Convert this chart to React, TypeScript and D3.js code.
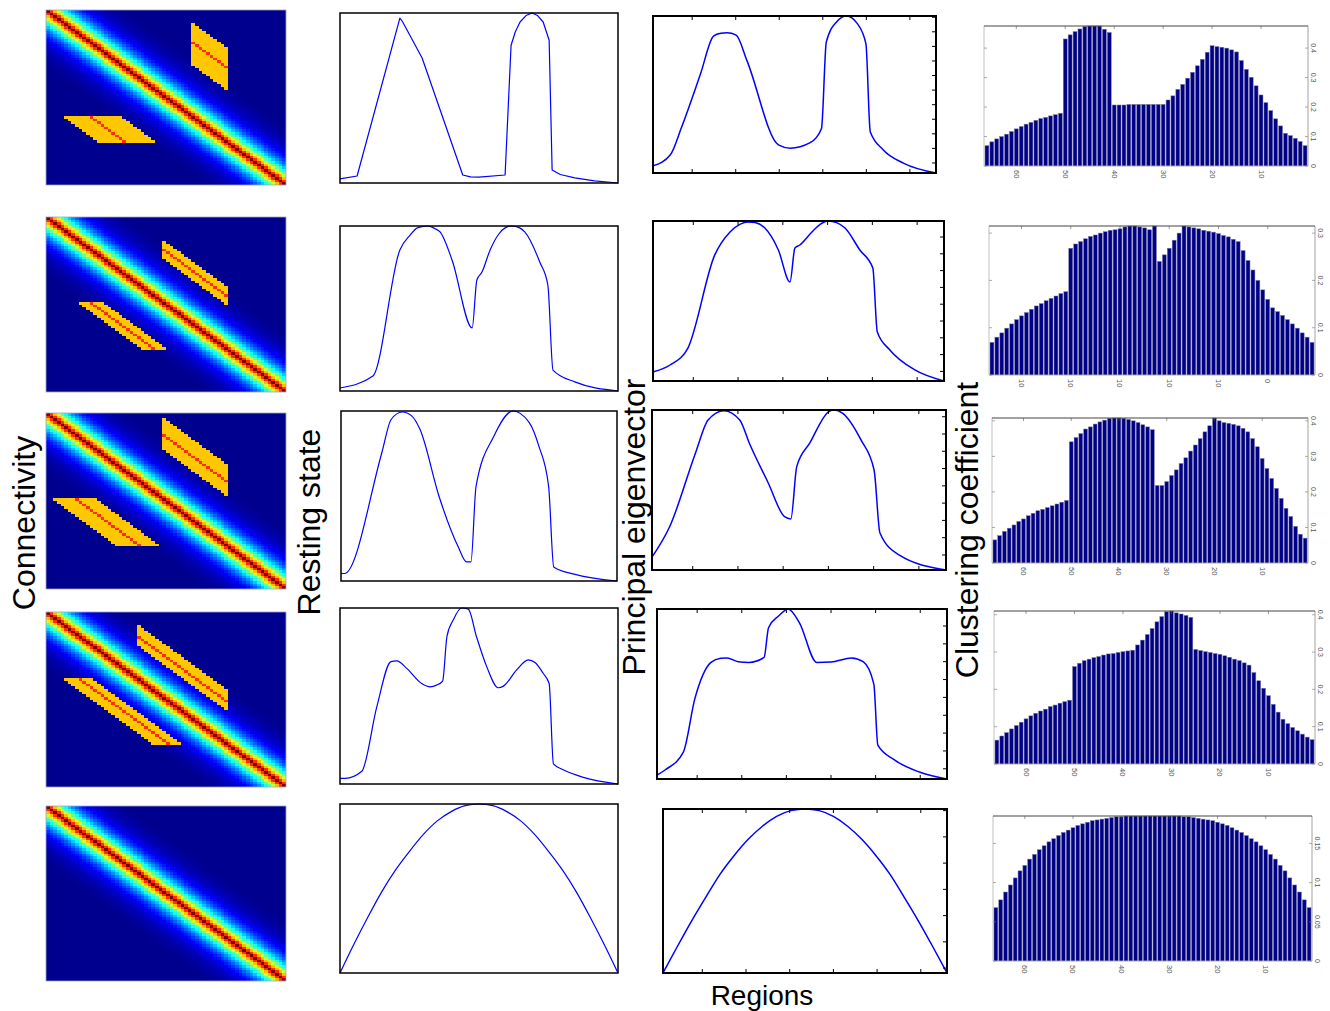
import React from "react";
import * as d3 from "d3";

// ---------------- DATA ----------------
const N_REGIONS = 66;
const regionIdx = d3.range(1, N_REGIONS + 1);

// Connectivity matrices: diagonal decay + two symmetric off-diagonal blocks per row (0-based indices)
const diagDecay = 5.5;
const blockColStart = [40, 32, 32, 25, -1];
const blockColEnd = [49, 49, 49, 49, -1];
const blockOffMin = [20, 17, 19, 13, 0];
const blockOffMax = [35, 23, 30, 20, 0];
const blockOffCenter = [28, 20, 24, 16, 0];
const blockLevel = 0.68;
const blockCenterLevel = 0.83;

// Resting state curves: [region, normalised value]
const rest1: [number, number][] = [
  [1, 0.024], [5.0, 0.041], [15.0, 0.97], [15.6, 0.95], [20.2, 0.735], [29.7, 0.047],
  [31.5, 0.036], [33.5, 0.035], [39.6, 0.047], [41.0, 0.81], [42.0, 0.89], [43.1, 0.947],
  [44.5, 0.985], [45.9, 1.0], [47.2, 0.985], [48.5, 0.947], [49.9, 0.84],
  [50.6, 0.076], [52.5, 0.05], [55.9, 0.03], [60.5, 0.012], [66, 0],
];
const rest2: [number, number][] = [
  [1, 0.018], [8.7, 0.091], [15.0, 0.855], [17.4, 0.945], [19.2, 0.99], [21.6, 1.0], [23.1, 0.985],
  [24.4, 0.964], [27.2, 0.794], [31.9, 0.382], [33.0, 0.673], [34.2, 0.721], [36.1, 0.855],
  [38.1, 0.95], [39.7, 0.99], [41.2, 1.0], [42.9, 0.99], [44.2, 0.964], [47.7, 0.782],
  [49.6, 0.642], [50.8, 0.127], [55.9, 0.055], [66, 0],
];
const rest3: [number, number][] = [
  [1, 0.045], [1.8, 0.044], [10.6, 0.753], [12.8, 0.95], [15.4, 0.994], [17.7, 0.97],
  [19.6, 0.892], [24.1, 0.497], [28.6, 0.201], [30.6, 0.112], [31.6, 0.112], [32.8, 0.556],
  [37.0, 0.852], [41.5, 1.0], [45.3, 0.933], [47.6, 0.793], [49.9, 0.556], [51.1, 0.083],
  [55.9, 0.04], [66, 0],
];
const rest4: [number, number][] = [
  [1, 0.032], [2.2, 0.032], [6.1, 0.072], [9.6, 0.438], [12.9, 0.695], [14.3, 0.7],
  [16.6, 0.657], [20.1, 0.571], [22.1, 0.552], [23.6, 0.562], [25.0, 0.585], [26.0, 0.838],
  [27.5, 0.933], [29.4, 1.0], [31.0, 0.994], [32.9, 0.838], [35.3, 0.667], [38.0, 0.547],
  [39.2, 0.556], [42.3, 0.648], [45.0, 0.705], [46.6, 0.69], [48.5, 0.629], [49.9, 0.571],
  [50.9, 0.114], [53.2, 0.081], [57.9, 0.038], [66, 0],
];
const rest5: [number, number][] = [
  [1, 0], [4.25, 0.17], [7.5, 0.33], [10.75, 0.48], [14, 0.61], [17.25, 0.72], [20.5, 0.82],
  [23.75, 0.9], [27, 0.955], [30.25, 0.99], [33.5, 1.0], [36.75, 0.99], [40, 0.955],
  [43.25, 0.9], [46.5, 0.82], [49.75, 0.72], [53, 0.61], [56.25, 0.48], [59.5, 0.33],
  [62.75, 0.17], [66, 0],
];

// Principal eigenvector curves: [region, normalised value]
const eig1: [number, number][] = [
  [1, 0.046], [5.0, 0.116], [7.6, 0.294], [11.9, 0.63], [14.9, 0.872], [16.6, 0.89],
  [18.0, 0.893], [20.1, 0.878], [22.6, 0.714], [29.8, 0.179], [32.5, 0.158], [37.1, 0.193],
  [39.7, 0.284], [40.8, 0.834], [43.2, 0.964], [45.5, 1.0], [47.8, 0.956], [49.9, 0.824],
  [50.9, 0.263], [53.9, 0.147], [58.5, 0.063], [66, 0],
];
const eig2: [number, number][] = [
  [1, 0.056], [4.8, 0.1], [8.8, 0.206], [14.8, 0.788], [18.2, 0.931], [20.5, 0.98],
  [22.2, 0.994], [23.8, 0.99], [26.0, 0.956], [29.0, 0.819], [31.6, 0.619], [32.7, 0.831],
  [33.8, 0.85], [36.5, 0.931], [38.4, 0.98], [40.1, 1.0], [42.0, 0.99], [43.9, 0.956],
  [47.2, 0.819], [50.1, 0.706], [51.1, 0.306], [53.9, 0.194], [59.5, 0.069], [66, 0],
];
const eig3: [number, number][] = [
  [1, 0.08], [4.9, 0.27], [10.6, 0.73], [13.4, 0.938], [16.9, 0.996], [20.4, 0.938],
  [22.5, 0.794], [26.7, 0.544], [30.3, 0.333], [31.7, 0.319], [33.0, 0.646], [35.9, 0.794],
  [40.1, 0.99], [41.3, 1.0], [43.1, 0.981], [47.2, 0.813], [50.1, 0.625], [51.4, 0.231],
  [55.6, 0.094], [66, 0],
];
const eig4: [number, number][] = [
  [1, 0.023], [2.8, 0.053], [6.9, 0.158], [9.5, 0.474], [13.1, 0.686], [15.3, 0.71],
  [16.7, 0.712], [19.2, 0.69], [21.6, 0.686], [25.0, 0.715], [26.0, 0.89], [28.3, 0.96],
  [30.4, 1.0], [32.9, 0.92], [36.8, 0.686], [40.0, 0.688], [44.6, 0.712], [47.2, 0.69],
  [49.6, 0.558], [50.5, 0.199], [54.3, 0.111], [59.8, 0.041], [66, 0],
];
const eig5: [number, number][] = [
  [1, 0], [4.25, 0.16], [7.5, 0.315], [10.75, 0.46], [14, 0.6], [17.25, 0.715], [20.5, 0.815],
  [23.75, 0.895], [27, 0.955], [30.25, 0.99], [33.5, 1.0], [36.75, 0.99], [40, 0.955],
  [43.25, 0.895], [46.5, 0.815], [49.75, 0.715], [53, 0.6], [56.25, 0.46], [59.5, 0.315],
  [62.75, 0.16], [66, 0],
];

// Clustering coefficient per region (index 1..66)
const clust1 = [
  0.069, 0.083, 0.094, 0.103, 0.111, 0.136, 0.160, 0.188, 0.215, 0.241,
  0.272, 0.301, 0.328, 0.358, 0.387, 0.394, 0.400, 0.403, 0.405, 0.408,
  0.386, 0.362, 0.340, 0.318, 0.298, 0.277, 0.260, 0.238, 0.224, 0.209,
  0.209, 0.209, 0.209, 0.209, 0.209, 0.209, 0.209, 0.207, 0.207, 0.207,
  0.453, 0.464, 0.475, 0.475, 0.475, 0.473, 0.465, 0.456, 0.445, 0.431,
  0.179, 0.174, 0.170, 0.165, 0.161, 0.155, 0.148, 0.142, 0.134, 0.126,
  0.117, 0.108, 0.100, 0.092, 0.082, 0.069,
];
const clust2 = [
  0.069, 0.080, 0.089, 0.099, 0.108, 0.117, 0.126, 0.134, 0.142, 0.160,
  0.180, 0.200, 0.222, 0.242, 0.263, 0.282, 0.287, 0.292, 0.295, 0.299,
  0.302, 0.304, 0.306, 0.309, 0.311, 0.313, 0.315, 0.300, 0.285, 0.268,
  0.254, 0.240, 0.315, 0.307, 0.311, 0.313, 0.315, 0.315, 0.313, 0.309,
  0.307, 0.306, 0.303, 0.300, 0.296, 0.293, 0.288, 0.282, 0.277, 0.268,
  0.176, 0.172, 0.167, 0.162, 0.157, 0.151, 0.146, 0.139, 0.132, 0.125,
  0.117, 0.108, 0.099, 0.089, 0.080, 0.069,
];
const clust3 = [
  0.070, 0.081, 0.103, 0.131, 0.154, 0.182, 0.210, 0.238, 0.266, 0.294,
  0.327, 0.350, 0.369, 0.379, 0.386, 0.390, 0.393, 0.395, 0.400, 0.408,
  0.386, 0.369, 0.350, 0.332, 0.315, 0.296, 0.280, 0.262, 0.246, 0.229,
  0.218, 0.218, 0.375, 0.383, 0.389, 0.395, 0.400, 0.404, 0.407, 0.408,
  0.408, 0.407, 0.402, 0.397, 0.391, 0.383, 0.377, 0.364, 0.353, 0.341,
  0.176, 0.171, 0.166, 0.161, 0.156, 0.151, 0.147, 0.140, 0.133, 0.124,
  0.117, 0.107, 0.098, 0.089, 0.077, 0.065,
];
const clust4 = [
  0.065, 0.072, 0.080, 0.089, 0.098, 0.108, 0.120, 0.139, 0.160, 0.183,
  0.203, 0.223, 0.245, 0.265, 0.271, 0.277, 0.281, 0.286, 0.290, 0.294,
  0.296, 0.299, 0.301, 0.304, 0.307, 0.393, 0.398, 0.402, 0.405, 0.410,
  0.408, 0.395, 0.381, 0.363, 0.347, 0.332, 0.319, 0.305, 0.303, 0.301,
  0.299, 0.296, 0.295, 0.292, 0.288, 0.285, 0.281, 0.277, 0.270, 0.261,
  0.171, 0.167, 0.163, 0.158, 0.154, 0.147, 0.142, 0.136, 0.129, 0.121,
  0.112, 0.103, 0.094, 0.084, 0.075, 0.064,
];
const clust5 = [
  0.068, 0.078, 0.088, 0.097, 0.106, 0.115, 0.122, 0.130, 0.136, 0.142,
  0.147, 0.152, 0.156, 0.160, 0.164, 0.167, 0.170, 0.173, 0.175, 0.177,
  0.179, 0.180, 0.181, 0.182, 0.183, 0.184, 0.184, 0.185, 0.185, 0.185,
  0.185, 0.185, 0.185, 0.185, 0.185, 0.185, 0.185, 0.185, 0.185, 0.184,
  0.184, 0.183, 0.182, 0.181, 0.180, 0.179, 0.177, 0.175, 0.173, 0.170,
  0.167, 0.164, 0.160, 0.156, 0.152, 0.147, 0.142, 0.136, 0.130, 0.122,
  0.115, 0.106, 0.097, 0.088, 0.078, 0.068,
];

const clustXTicks = [60, 50, 40, 30, 20, 10];
const clustXLabels = [
  ["60", "50", "40", "30", "20", "10"],
  ["10", "10", "10", "10", "10", "0"],
  ["60", "50", "40", "30", "20", "10"],
  ["60", "50", "40", "30", "20", "10"],
  ["60", "50", "40", "30", "20", "10"],
];
const clustYTicks = [
  [0, 0.1, 0.2, 0.3, 0.4],
  [0, 0.1, 0.2, 0.3],
  [0, 0.1, 0.2, 0.3, 0.4],
  [0, 0.1, 0.2, 0.3, 0.4],
  [0, 0.05, 0.1, 0.15],
];
const eigXTicks = [10, 20, 30, 40, 50, 60];
const eigYTickStart = [0.064, 0.06, 0.094, 0.06, 0.03];
const eigYTickStep = [0.0928, 0.105, 0.108, 0.105, 0.16];

const restData = [rest1, rest2, rest3, rest4, rest5];
const restLinear = [true, false, false, false, false];
const eigData = [eig1, eig2, eig3, eig4, eig5];
const clustData = [clust1, clust2, clust3, clust4, clust5];

// ---------------- LAYOUT ----------------
type Box = { x0: number; x1: number; y0: number; y1: number };
const heatBoxes: Box[] = [
  { x0: 46, x1: 286, y0: 10, y1: 185 },
  { x0: 46, x1: 286, y0: 217, y1: 392 },
  { x0: 46, x1: 286, y0: 413, y1: 589 },
  { x0: 46, x1: 286, y0: 612, y1: 787 },
  { x0: 46, x1: 286, y0: 806, y1: 981 },
];
const restBoxes: Box[] = [
  { x0: 340, x1: 618, y0: 13, y1: 183 },
  { x0: 340, x1: 618, y0: 226, y1: 391 },
  { x0: 341, x1: 617, y0: 411, y1: 581 },
  { x0: 340, x1: 618, y0: 608, y1: 784 },
  { x0: 340, x1: 618, y0: 804, y1: 973 },
];
const eigBoxes: Box[] = [
  { x0: 653, x1: 936, y0: 16, y1: 173 },
  { x0: 653, x1: 944, y0: 221, y1: 381 },
  { x0: 652, x1: 946, y0: 410, y1: 570 },
  { x0: 657, x1: 947, y0: 609, y1: 779 },
  { x0: 663, x1: 947, y0: 809, y1: 973 },
];
const clustBoxes: Box[] = [
  { x0: 984, x1: 1308, y0: 26, y1: 166 },
  { x0: 989, x1: 1315, y0: 226, y1: 375 },
  { x0: 992, x1: 1308, y0: 418, y1: 563 },
  { x0: 994, x1: 1315, y0: 611, y1: 764 },
  { x0: 993, x1: 1312, y0: 816, y1: 961 },
];

const FONT = "'Liberation Sans', Arial, Helvetica, sans-serif";

const jet = d3
  .scaleLinear<string>()
  .domain([0, 0.125, 0.375, 0.625, 0.875, 1])
  .range(["#00008f", "#0000ff", "#00ffff", "#ffff00", "#ff0000", "#800000"])
  .clamp(true);

function Heatmap({ r, box }: { r: number; box: Box }) {
  const cells = React.useMemo(() => {
    const idx = d3.range(N_REGIONS);
    const xs = d3.scaleBand<number>().domain(idx).range([box.x0, box.x1]);
    const ys = d3.scaleBand<number>().domain(idx).range([box.y0, box.y1]);
    const out: JSX.Element[] = [];
    const cs = blockColStart[r], ce = blockColEnd[r];
    const omin = blockOffMin[r], omax = blockOffMax[r], oc = blockOffCenter[r];
    for (const i of idx) {
      for (const j of idx) {
        const d = Math.abs(i - j);
        let v = Math.max(0, (Math.exp(-d / diagDecay) - 0.02) / 0.98);
        if (cs >= 0) {
          const up = j >= cs && j <= ce && j - i >= omin && j - i <= omax;
          const lo = i >= cs && i <= ce && i - j >= omin && i - j <= omax;
          if (up || lo) v = Math.max(v, d === oc ? blockCenterLevel : blockLevel);
        }
        const x = xs(j) as number, y = ys(i) as number;
        out.push(
          <rect
            key={i * N_REGIONS + j}
            x={x}
            y={y}
            width={Math.min(xs.bandwidth() + 1, box.x1 - x)}
            height={Math.min(ys.bandwidth() + 1, box.y1 - y)}
            fill={jet(v)}
          />
        );
      }
    }
    return out;
  }, [r, box]);
  return (
    <g>
      <rect x={box.x0} y={box.y0} width={box.x1 - box.x0} height={box.y1 - box.y0} fill="#00008f" />
      <g shapeRendering="crispEdges">{cells}</g>
      <rect x={box.x0} y={box.y0} width={box.x1 - box.x0} height={box.y1 - box.y0}
        fill="none" stroke="#9aa3c8" strokeWidth={0.8} />
    </g>
  );
}

function LinePanel({ data, box, eig, r, linear }: { data: [number, number][]; box: Box; eig: boolean; r: number; linear: boolean }) {
  const xs = d3.scaleLinear().domain([1, N_REGIONS]).range([box.x0, box.x1]);
  const ys = d3.scaleLinear().domain([0, 1]).range([box.y1, box.y0]);
  const line = d3
    .line<[number, number]>()
    .x((d) => xs(d[0]))
    .y((d) => ys(d[1]))
    .curve(linear ? d3.curveLinear : d3.curveMonotoneX);
  const yt = eig ? d3.range(eigYTickStart[r], 1.0, eigYTickStep[r]) : [];
  return (
    <g>
      <path d={line(data) || ""} fill="none" stroke="#0000ff" strokeWidth={eig ? 1.5 : 1.2} strokeLinejoin="round" />
      {eig &&
        eigXTicks.map((t) => (
          <g key={"xt" + t}>
            <line x1={xs(t)} x2={xs(t)} y1={box.y1} y2={box.y1 - 4} stroke="#000" strokeWidth={1} />
            <line x1={xs(t)} x2={xs(t)} y1={box.y0} y2={box.y0 + 4} stroke="#000" strokeWidth={1} />
          </g>
        ))}
      {yt.map((t, k) => (
        <line key={"yt" + k} x1={box.x1} x2={box.x1 - 4} y1={ys(t)} y2={ys(t)} stroke="#000" strokeWidth={1} />
      ))}
      <rect x={box.x0} y={box.y0} width={box.x1 - box.x0} height={box.y1 - box.y0}
        fill="none" stroke="#000" strokeWidth={eig ? 2 : 1.5} />
    </g>
  );
}

function BarPanel({ values, box, r }: { values: number[]; box: Box; r: number }) {
  const xs = d3.scaleLinear().domain([66.6, 0.4]).range([box.x0, box.x1]);
  const ymax = d3.max(values) as number;
  const ys = d3.scaleLinear().domain([0, ymax]).range([box.y1, box.y0]);
  return (
    <g>
      {regionIdx.map((k, n) => (
        <rect key={k} x={xs(k + 0.4)} y={ys(values[n])} width={xs(k - 0.4) - xs(k + 0.4)}
          height={ys(0) - ys(values[n])} fill="#00008a" stroke="#7c7ca0" strokeWidth={0.5} />
      ))}
      <line x1={box.x0} x2={box.x0} y1={box.y0} y2={box.y1} stroke="#b0b0b0" strokeWidth={0.8} />
      <line x1={box.x1} x2={box.x1} y1={box.y0} y2={box.y1} stroke="#8a8a8a" strokeWidth={0.8} />
      <line x1={box.x0} x2={box.x1} y1={box.y0} y2={box.y0} stroke="#444" strokeWidth={1} />
      <line x1={box.x0} x2={box.x1} y1={box.y1} y2={box.y1} stroke="#bbb" strokeWidth={0.6} />
      {clustXTicks.map((t, i) => (
        <g key={"x" + t}>
          <line x1={xs(t)} x2={xs(t)} y1={box.y0} y2={box.y0 + 3} stroke="#555" strokeWidth={0.6} />
          <text transform={`translate(${xs(t)},${box.y1 + 4}) rotate(90)`} fontSize={7.5}
            fill="#555" dominantBaseline="central" textAnchor="start" fontFamily={FONT}>
            {clustXLabels[r][i]}
          </text>
        </g>
      ))}
      {clustYTicks[r].map((t) => (
        <g key={"y" + t}>
          <line x1={box.x0} x2={box.x0 + 3} y1={ys(t)} y2={ys(t)} stroke="#777" strokeWidth={0.6} />
          <line x1={box.x1} x2={box.x1 - 3} y1={ys(t)} y2={ys(t)} stroke="#777" strokeWidth={0.6} />
          <text transform={`translate(${box.x1 + 5},${ys(t)}) rotate(90)`} fontSize={7}
            fill="#555" dominantBaseline="central" textAnchor="middle" fontFamily={FONT}>
            {String(t)}
          </text>
        </g>
      ))}
    </g>
  );
}

export default function App() {
  return (
    <div style={{ position: "absolute", left: 0, top: 0 }}>
      <svg width={1330} height={1011} style={{ display: "block", background: "#fff" }}>
        {heatBoxes.map((b, r) => (
          <Heatmap key={"h" + r} r={r} box={b} />
        ))}
        {restBoxes.map((b, r) => (
          <LinePanel key={"r" + r} data={restData[r]} box={b} eig={false} r={r} linear={restLinear[r]} />
        ))}
        {eigBoxes.map((b, r) => (
          <LinePanel key={"e" + r} data={eigData[r]} box={b} eig={true} r={r} linear={false} />
        ))}
        {clustBoxes.map((b, r) => (
          <BarPanel key={"c" + r} values={clustData[r]} box={b} r={r} />
        ))}
        <g fontFamily={FONT} fontSize={32} fill="#000">
          <text transform="translate(35,523) rotate(-90)" textAnchor="middle">Connectivity</text>
          <text transform="translate(320,522) rotate(-90)" textAnchor="middle">Resting state</text>
          <text transform="translate(645,527) rotate(-90)" textAnchor="middle">Principal eigenvector</text>
          <text transform="translate(978,530) rotate(-90)" textAnchor="middle">Clustering coefficient</text>
          <text x={762} y={1005} textAnchor="middle" fontSize={28}>Regions</text>
        </g>
      </svg>
    </div>
  );
}
